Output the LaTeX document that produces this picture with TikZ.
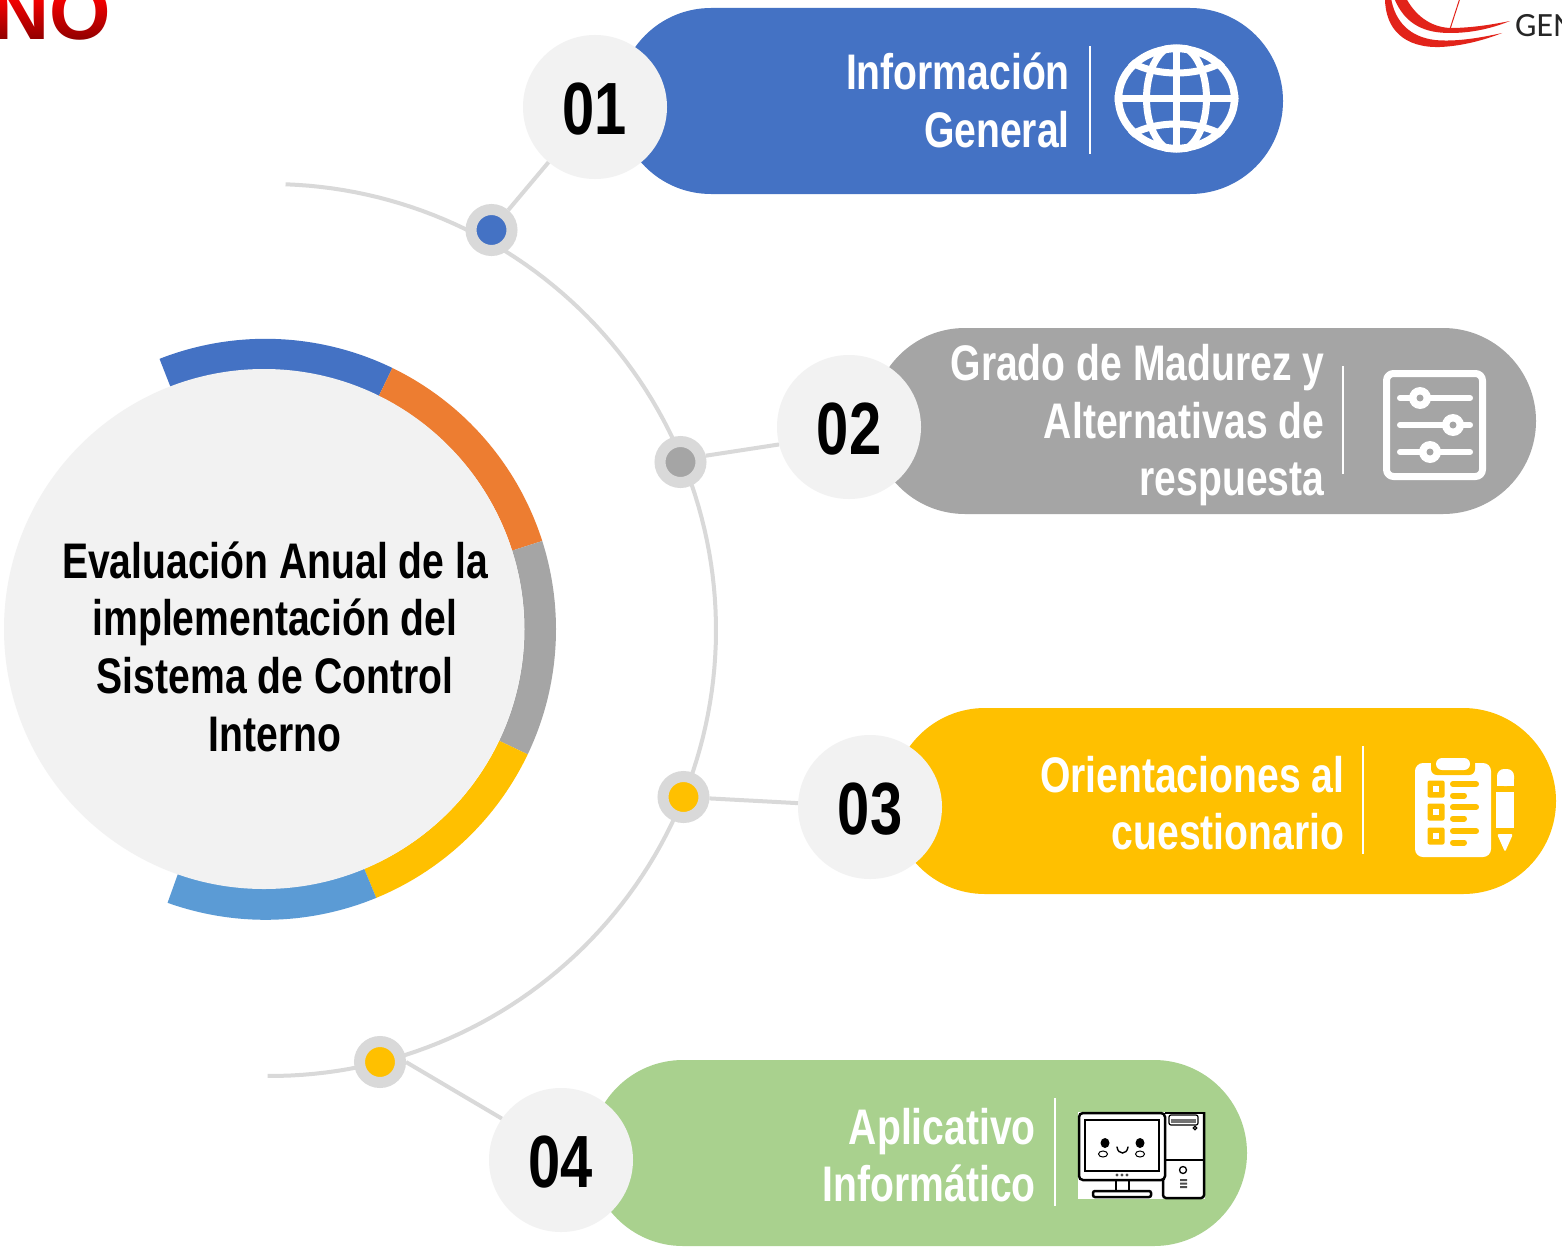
\documentclass[tikz,border=0pt]{standalone}
\usepackage{fontspec}
\setmainfont{Liberation Sans}
\newfontfamily\narfont[FakeStretch=0.782]{Liberation Sans}
\newfontfamily\logofont{Carlito}
\usetikzlibrary{shapes.misc}
\definecolor{cblue}{HTML}{4472C4}
\definecolor{corange}{HTML}{ED7D31}
\definecolor{cgrey}{HTML}{A5A5A5}
\definecolor{cyellow}{HTML}{FFC000}
\definecolor{clblue}{HTML}{5B9BD5}
\definecolor{cgreen}{HTML}{A9D18E}
\definecolor{clight}{HTML}{F2F2F2}
\definecolor{cline}{HTML}{D9D9D9}
\definecolor{clogored}{HTML}{E2231A}
\definecolor{cnodark}{HTML}{8A0000}
\newcommand{\ringseg}[3]{%
  \fill[#3] plot[domain=#1:#2,samples=50] ({265.5+290.5*cos(\x)},{629.3-290.5*sin(\x)})
    -- plot[domain=#2:#1,samples=50] ({265.5+259*cos(\x)},{629.3-259*sin(\x)}) -- cycle;}
\tikzset{
  pill/.style={rounded rectangle,draw=none,inner sep=0pt,minimum height=186pt},
  numcirc/.style={circle,fill=clight,inner sep=0pt,minimum size=144pt,text=black,
    text height=54.5pt,text depth=0pt,
    font=\narfont\bfseries\fontsize{74}{74}\selectfont},
  dotnode/.style={circle,draw=cline,line width=11pt,inner sep=0pt,minimum size=41pt},
  label/.style={inner sep=0pt,align=right,anchor=east,text=white,
    font=\narfont\bfseries\fontsize{50}{57.5}\selectfont},
  centerlabel/.style={inner sep=0pt,align=center,text=black,
    font=\narfont\bfseries\fontsize{50}{57.7}\selectfont},
  linkline/.style={draw=cline,line width=4pt},
  divider/.style={draw=white,line width=2pt},
  icon/.style={draw=white,line cap=round,line join=round}
}
\begin{document}
\begin{tikzpicture}[x=1pt,y=-1pt]
\useasboundingbox (0,0) rectangle (1562,1255);
\clip (0,0) rectangle (1562,1255);
% header fragments
\fill[white] (0,0) rectangle (1562,1255);
\node[inner sep=0pt,anchor=base west,text=cnodark,font=\bfseries\fontsize{79}{79}\selectfont] (notext) at (-8,40) {NO};
\shade[blend mode=screen,top color=red!90!black,bottom color=black] (-1,-1) rectangle (130,42);
\node[inner sep=0pt,anchor=base west,text=black!85,font=\logofont\fontsize{34}{34}\selectfont] (gen) at (1515,37) {GEN};
\fill[clogored] (1385,-2) .. controls (1385,30) and (1405,48) .. (1440,47) .. controls (1465,46) and (1490,38) .. (1502,33)
  .. controls (1480,38) and (1455,42) .. (1435,40) .. controls (1410,37) and (1395,22) .. (1391,-2) -- cycle;
\fill[clogored] (1394,-2) .. controls (1405,25) and (1425,33) .. (1450,33) .. controls (1475,33) and (1495,27) .. (1510,21)
  .. controls (1490,25) and (1470,28) .. (1450,28) .. controls (1430,27) and (1415,15) .. (1406,-2) -- cycle;
\draw[clogored,line width=1pt] (1460,-2) -- (1450,29);
% large arc
\draw[cline,line width=4pt] plot[domain=88:-90.3,samples=120] ({270+446*cos(\x)},{630-446*sin(\x)});
% ring and core
\ringseg{111.4}{64.1}{cblue}
\ringseg{64.1}{17.7}{corange}
\ringseg{17.7}{-25.5}{cgrey}
\ringseg{-25.5}{-67.6}{cyellow}
\ringseg{-67.6}{-109.7}{clblue}
\node[circle,fill=clight,inner sep=0pt,minimum size=520pt] (core) at (264,629) {};
\node[centerlabel] (coretext) at (275,646.5) {Evaluación Anual de la\\implementación del\\Sistema de Control\\Interno};
% pills
\node[pill,fill=cblue,minimum width=665pt] (p1) at (950.5,101) {};
\node[pill,fill=cgrey,minimum width=664pt] (p2) at (1204,421) {};
\node[pill,fill=cyellow,minimum width=664pt] (p3) at (1224,801) {};
\node[pill,fill=cgreen,minimum width=657pt] (p4) at (918.5,1153) {};
% number circles
\node[numcirc] (n1) at (595,107) {01};
\node[numcirc] (n2) at (849,427) {02};
\node[numcirc] (n3) at (870,807) {03};
\node[numcirc] (n4) at (561,1160) {04};
% dots
\node[dotnode,fill=cblue] (d1) at (491.5,230) {};
\node[dotnode,fill=cgrey] (d2) at (680.5,462) {};
\node[dotnode,fill=cyellow] (d3) at (683.5,797) {};
\node[dotnode,fill=cyellow] (d4) at (380,1062) {};
% connectors
\draw[linkline] (d1) -- (n1);
\draw[linkline] (d2.14) -- (n2.194);
\draw[linkline] (d3) -- (n3);
\draw[linkline] (d4.0) -- (n4.145);
% labels
\node[label] (t1) at (1070,100.5) {Información\\General};
\node[label] (t2) at (1324.5,425.5) {Grado de Madurez y\\Alternativas de\\respuesta};
\node[label] (t3) at (1344.5,803) {Orientaciones al\\cuestionario};
\node[label] (t4) at (1036,1155) {Aplicativo\\Informático};
% dividers
\coordinate (v1a) at (1090,46); \coordinate (v1b) at (1090,154);
\coordinate (v2a) at (1343,366); \coordinate (v2b) at (1343,474);
\coordinate (v3a) at (1363,746); \coordinate (v3b) at (1363,854);
\coordinate (v4a) at (1055,1098); \coordinate (v4b) at (1055,1206);
\draw[divider] (v1a) -- (v1b);
\draw[divider] (v2a) -- (v2b);
\draw[divider] (v3a) -- (v3b);
\draw[divider] (v4a) -- (v4b);
% globe icon
\begin{scope}
\clip (1176.5,98.5) ellipse [x radius=62pt,y radius=54pt];
\draw[icon,line width=7pt,line cap=butt] (1111,98.5) -- (1242,98.5);
\draw[icon,line width=7pt,line cap=butt] (1176.5,40) -- (1176.5,158);
\draw[icon,line width=7pt] (1176.5,98.5) ellipse [x radius=30pt,y radius=53pt];
\draw[icon,line width=7pt,line cap=butt] (1125,58) .. controls (1150,78) and (1203,78) .. (1228,58);
\draw[icon,line width=7pt,line cap=butt] (1125,139) .. controls (1150,119) and (1203,119) .. (1228,139);
\end{scope}
\draw[icon,line width=7.5pt] (1176.5,98.5) ellipse [x radius=58pt,y radius=50pt];
% sliders icon
\draw[icon,line width=7pt,rounded corners=7pt] (1386.5,373.5) rectangle (1482.5,476.5);
\foreach \yy/\xx in {398/1420,425/1453,452/1430}{
  \draw[icon,line width=6pt] (1400,\yy) -- (1470,\yy);
  \fill[white] (\xx,\yy) circle [radius=11pt];
  \fill[cgrey] (\xx,\yy) circle [radius=3.5pt];
}
% clipboard icon
\fill[white,rounded corners=8pt] (1415,763) rectangle (1491,857);
\fill[cyellow,rounded corners=6pt] (1431,752) rectangle (1475,775);
\fill[white,rounded corners=6pt] (1436,758) rectangle (1470,770);
\foreach \yy in {789,812,836}{
  \fill[cyellow,rounded corners=2pt] (1427.5,\yy-8.5) rectangle (1444.5,\yy+8.5);
  \fill[white] (1433,\yy-3) rectangle (1439,\yy+3);
  \draw[cyellow,line width=6pt,line cap=round] (1453,\yy-5) -- (1476,\yy-5);
  \draw[cyellow,line width=6pt,line cap=round] (1453,\yy+6.5) -- (1464,\yy+6.5);
}
\fill[white,rounded corners=7pt] (1497,786) -- (1497,769) -- (1514,769) -- (1514,786) -- cycle;
\fill[white] (1497,778) rectangle (1514,786);
\fill[white] (1496,792) rectangle (1514,828);
\fill[white,rounded corners=2pt] (1497,834) -- (1513,834) -- (1505,852) -- cycle;
% computer icon
\fill[white] (1078,1112) rectangle (1205,1199);
\begin{scope}[black,line width=2.5pt]
\draw[rounded corners=4pt] (1079,1113) rectangle (1165,1180);
\draw[line width=1.8pt] (1085,1120) rectangle (1159,1171);
\fill (1105,1143) ellipse [x radius=4.5pt,y radius=5pt];
\fill (1140,1143) ellipse [x radius=4.5pt,y radius=5pt];
\draw[line width=1pt] (1103,1154) ellipse [x radius=4.5pt,y radius=3pt];
\draw[line width=1pt] (1140,1154) ellipse [x radius=4.5pt,y radius=3pt];
\draw[line width=1.4pt,line cap=round] (1117,1147) .. controls (1118,1155) and (1127,1155) .. (1128,1147);
\fill[black!70] (1117,1175) circle [radius=1.6pt] (1122,1175) circle [radius=1.6pt] (1127,1175) circle [radius=1.6pt];
\draw (1116,1180) -- (1116,1191) (1129,1180) -- (1129,1191);
\draw[rounded corners=2pt] (1093,1191) rectangle (1151,1197);
\draw[rounded corners=3pt] (1163,1180) -- (1163,1198) -- (1204,1198) -- (1204,1112);
\draw (1165,1160) -- (1204,1160);
\draw (1165,1113) -- (1204,1113);
\draw[line width=1.2pt,rounded corners=2pt] (1169,1115) rectangle (1198,1125);
\fill[black!55] (1171,1119) rectangle (1196,1123);
\draw[line width=1.2pt] (1195,1128) circle [radius=1.8pt];
\draw[line width=1.3pt] (1183,1170) circle [radius=3.5pt];
\fill[black!70] (1180,1179) rectangle (1187,1181) (1180,1182.5) rectangle (1187,1184.5) (1180,1186) rectangle (1187,1188);
\end{scope}
\end{tikzpicture}
\end{document}
